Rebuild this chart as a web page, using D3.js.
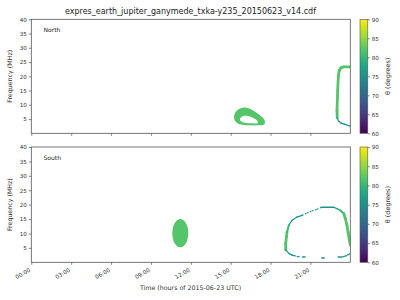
<!DOCTYPE html>
<html><head><meta charset="utf-8">
<script src="https://cdn.jsdelivr.net/npm/d3@7"></script>
<style>body{margin:0;background:#fff}svg{display:block;font-family:"DejaVu Sans",sans-serif}</style>
</head><body><svg id="c" width="400" height="300"></svg>
<script>
const title = "expres_earth_jupiter_ganymede_txka-y235_20150623_v14.cdf";
const panels = ["North", "South"];
const xTickHours = [0, 3, 6, 9, 12, 15, 18, 21];
const xTickLabels = ["00:00","03:00","06:00","09:00","12:00","15:00","18:00","21:00"];
const yTicks = [5, 10, 15, 20, 25, 30, 35, 40];
const cbTicks = [60, 65, 70, 75, 80, 85, 90];

// North: ring-shaped emission (outer + inner outline), theta value
const northRingOuter = [[15.25,5.37],[15.33,7.12],[15.63,8.53],[16.00,9.05],[16.38,8.70],[16.75,7.82],[17.13,6.60],[17.43,5.37],[17.58,4.14],[17.51,3.09],[17.06,2.81],[16.31,2.81],[15.70,3.09],[15.40,3.96]];
const northRingInner = [[15.72,5.3],[15.95,6.1],[16.31,6.1],[16.68,5.45],[16.98,4.45],[17.04,3.65],[16.46,3.5],[15.93,3.85],[15.72,4.49]];
const northRingTheta = 82;
// North: arc near end of day [hour, MHz, theta]
const northArc = [[24.0,23.3,82],[23.5,23.3,82],[23.3,23.0,82],[23.17,22.0,82],[23.1,20.0,82],[23.05,15,82],[23.0,8,82],[23.02,5.4,81],[23.12,4.3,76],[23.3,3.6,75.5],[23.55,3.2,75.5],[24.0,2.5,75]];

// South: filled blob [hour, MHz, halfHours, halfMHz, theta]
const southBlob = [11.21, 10.1, 0.6, 4.9, 82];
// South: loop, solid pieces [hour, MHz, theta]
const southLoopSolid = [
  [[19.14,4.3,81],[19.14,6.6,82],[19.2,9.0,82],[19.24,10.5,82],[19.37,12.8,79],[19.62,14.6,76],[19.99,15.7,75.5],[20.37,16.3,75.5]],
  [[21.82,19.1,75.5],[22.75,19.1,75.5],[23.0,18.6,77],[23.25,18.0,79],[23.51,16.9,81],[23.63,15.1,82],[23.75,12.8,82],[23.83,10.5,82],[23.92,8.0,82],[24.0,6.0,82]],
  [[19.14,4.3,77],[19.4,3.0,75.5],[19.62,2.5,75.5],[19.86,2.2,75.5]],
  [[20.0,1.94,75.5],[20.15,1.94,75.5]],
  [[20.4,1.84,75.5],[20.6,1.84,75.5]],
  [[21.85,1.5,75],[22.05,1.5,75]],
  [[23.08,1.84,75.5],[23.38,1.84,75.5]],
  [[23.45,2.0,76],[23.75,2.3,76]],
  [[23.8,2.6,77],[24.0,3.0,77]]
];
// South: dotted stretch of the loop
const southLoopDotted = [[20.37,16.3,75.5],[20.74,17.1,75.5],[21.12,17.8,75.5],[21.49,18.4,75.5],[21.82,19.05,75.5]];

const svg = d3.select("#c");
const L = 31.3, R = 350.3;
const panelBox = [[19.3, 133.3], [147, 262.3]];
const x = d3.scaleLinear().domain([0, 24]).range([L, R]);
const col = d3.scaleSequential(d3.interpolateViridis).domain([60, 90]);
const spine = "#555";

svg.append("text").attr("x", 190.5).attr("y", 13.5).attr("text-anchor", "middle")
  .attr("font-size", 8).attr("fill", "#222").text(title);

const widthOf = t => t >= 81 ? 2.8 : (t >= 79 ? 2 : 1.3);

panelBox.forEach((b, i) => {
  const y = d3.scaleLinear().domain([0, 40]).range([b[1], b[0]]);
  const g = svg.append("g");
  const clipId = "clip" + i;
  g.append("clipPath").attr("id", clipId).append("rect")
    .attr("x", L).attr("y", b[0]).attr("width", R - L).attr("height", b[1] - b[0]);
  const d = g.append("g").attr("clip-path", `url(#${clipId})`);

  const segs = (pts, dash) => {
    for (let k = 0; k < pts.length - 1; k++) {
      const t = (pts[k][2] + pts[k+1][2]) / 2;
      d.append("line").attr("x1", x(pts[k][0])).attr("y1", y(pts[k][1]))
        .attr("x2", x(pts[k+1][0])).attr("y2", y(pts[k+1][1]))
        .attr("stroke", col(t)).attr("stroke-width", widthOf(t))
        .attr("stroke-linecap", dash ? "butt" : "round")
        .attr("stroke-dasharray", dash ? "1.6,1.6" : null);
    }
  };

  if (i === 0) {
    const line = d3.line().x(p => x(p[0])).y(p => y(p[1])).curve(d3.curveCatmullRomClosed);
    d.append("path").attr("d", line(northRingOuter) + line(northRingInner))
      .attr("fill", col(northRingTheta)).attr("fill-rule", "evenodd");
    segs(northArc, false);
  } else {
    const [t0, f0, dt, df, th] = southBlob;
    const pts = d3.range(0, 64).map(k => {
      const a = k / 64 * 2 * Math.PI;
      return [x(t0 + dt * Math.cos(a)), y(f0 + df * Math.sin(a))];
    });
    d.append("path").attr("d", d3.line().curve(d3.curveLinearClosed)(pts)).attr("fill", col(th));
    southLoopSolid.forEach(p => segs(p, false));
    segs(southLoopDotted, true);
  }

  // frame
  g.append("rect").attr("x", L).attr("y", b[0]).attr("width", R - L).attr("height", b[1] - b[0])
    .attr("fill", "none").attr("stroke", spine).attr("stroke-width", 0.8);

  // y axis
  const ya = g.append("g").attr("transform", `translate(${L},0)`)
    .call(d3.axisLeft(y).tickValues(yTicks).tickSize(2.5).tickPadding(2));
  ya.select(".domain").remove();
  ya.selectAll("line").attr("stroke", spine).attr("stroke-width", 0.7);
  ya.selectAll("text").attr("font-size", 5.6).attr("fill", "#333").attr("font-family", "DejaVu Sans");

  // x axis
  const xa = g.append("g").attr("transform", `translate(0,${b[1]})`)
    .call(d3.axisBottom(x).tickValues(xTickHours).tickSize(2.5)
      .tickFormat((v, k) => i === 1 ? xTickLabels[k] : ""));
  xa.select(".domain").remove();
  xa.selectAll("line").attr("stroke", spine).attr("stroke-width", 0.7);
  xa.selectAll("text").attr("font-size", 5.6).attr("fill", "#333").attr("font-family", "DejaVu Sans")
    .attr("text-anchor", "end").attr("dy", null).attr("y", 0)
    .attr("transform", "translate(-1,9) rotate(-30)");

  g.append("text").attr("x", 43.5).attr("y", b[0] + 12.5).attr("font-size", 6).attr("fill", "#222").text(panels[i]);
  g.append("text").attr("transform", `translate(12,${(b[0] + b[1]) / 2}) rotate(-90)`)
    .attr("text-anchor", "middle").attr("font-size", 6.3).attr("fill", "#333").text("Frequency (MHz)");

  // colorbar
  const cx0 = 360, cw = 7.8;
  const cy = d3.scaleLinear().domain([60, 90]).range([b[1], b[0]]);
  const gid = "grad" + i;
  const grad = g.append("defs").append("linearGradient").attr("id", gid)
    .attr("x1", 0).attr("y1", 1).attr("x2", 0).attr("y2", 0);
  d3.range(0, 1.0001, 0.05).forEach(s => grad.append("stop").attr("offset", s).attr("stop-color", d3.interpolateViridis(s)));
  g.append("rect").attr("x", cx0).attr("y", b[0]).attr("width", cw).attr("height", b[1] - b[0])
    .attr("fill", `url(#${gid})`).attr("stroke", spine).attr("stroke-width", 0.6);
  const ca = g.append("g").attr("transform", `translate(${cx0 + cw},0)`)
    .call(d3.axisRight(cy).tickValues(cbTicks).tickSize(2).tickPadding(2));
  ca.select(".domain").remove();
  ca.selectAll("line").attr("stroke", spine).attr("stroke-width", 0.7);
  ca.selectAll("text").attr("font-size", 5.6).attr("fill", "#333").attr("font-family", "DejaVu Sans");
  g.append("text").attr("transform", `translate(390,${(b[0] + b[1]) / 2}) rotate(-90)`)
    .attr("text-anchor", "middle").attr("font-size", 6.5).attr("fill", "#333").text("θ (degrees)");
});

svg.append("text").attr("x", 190.5).attr("y", 290).attr("text-anchor", "middle")
  .attr("font-size", 6.3).attr("fill", "#333").text("Time (hours of 2015-06-23 UTC)");
</script></body></html>
